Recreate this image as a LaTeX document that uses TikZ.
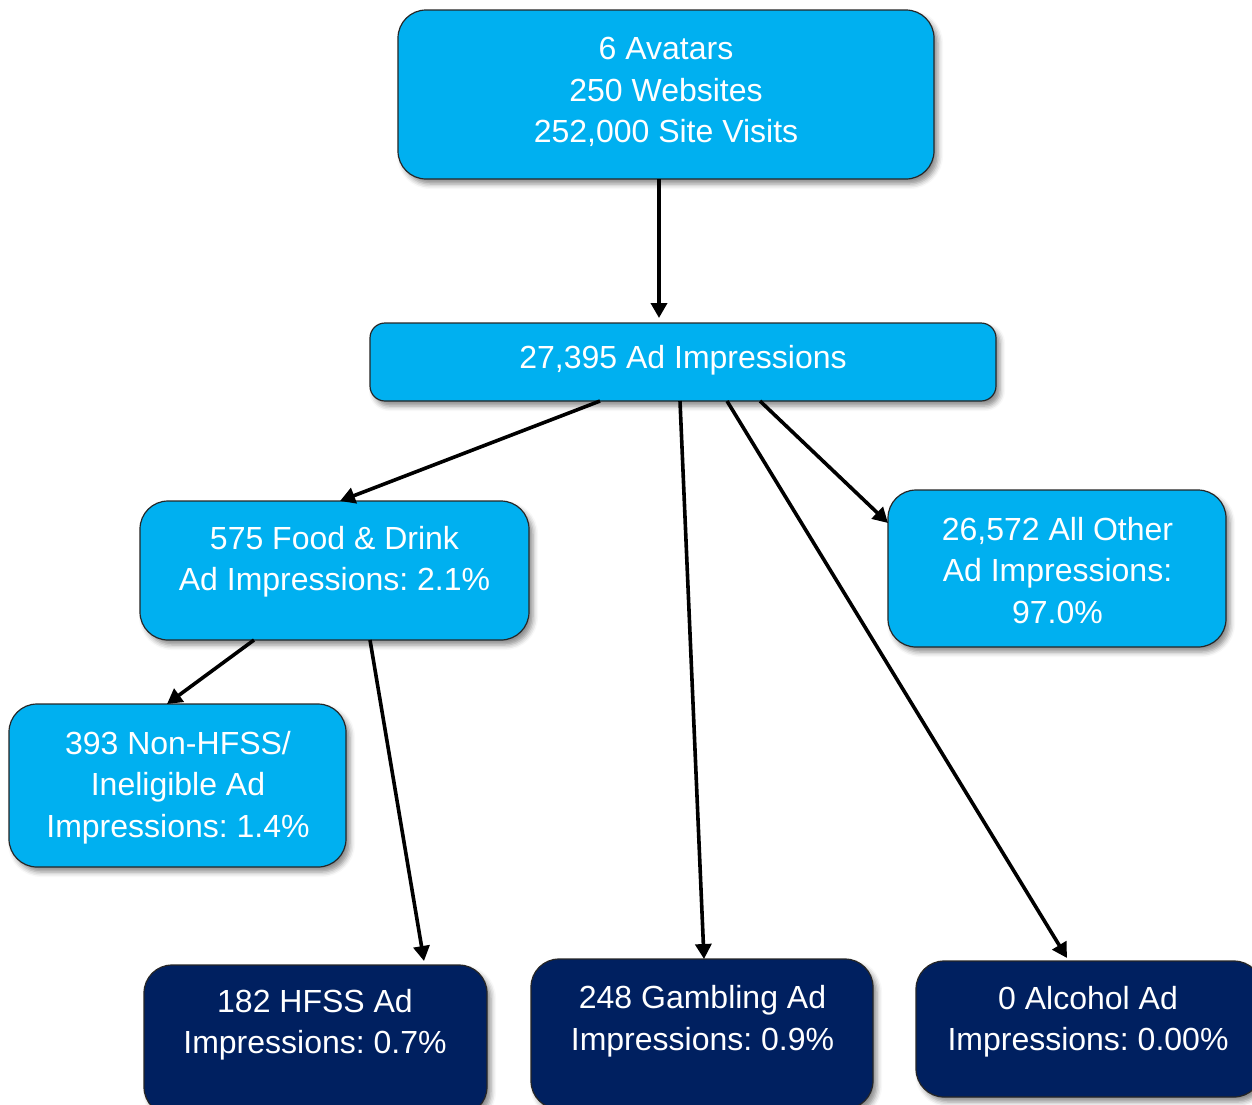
\documentclass[tikz,border=0pt]{standalone}
\usepackage{fontspec}
\setmainfont{Liberation Sans}
\usetikzlibrary{arrows.meta,calc,shadows.blur}
\definecolor{lblue}{HTML}{00B0F0}
\definecolor{navy}{HTML}{002060}
\frenchspacing
\begin{document}
\begin{tikzpicture}[x=1pt,y=-1pt,
  nbox/.style={draw=black!85, line width=1.2pt, rounded corners=28pt, anchor=north west,
    inner sep=0pt, outer sep=0pt,
    blur shadow={shadow xshift=4pt, shadow yshift=-5pt, shadow blur radius=5pt, shadow opacity=45}},
  lbox/.style={nbox, fill=lblue},
  dbox/.style={nbox, fill=navy},
  txt/.style={text=white, align=center, font=\fontsize{32}{41.5}\selectfont, inner sep=0pt},
  arr/.style={line width=3.6pt, -{Triangle[length=15pt,width=16pt]}}]
\useasboundingbox (0,0) rectangle (1252,1104);
\clip (0,0) rectangle (1252,1104);
% boxes
\node[lbox, minimum width=536, minimum height=169] (top) at (398,10) {};
\node[lbox, rounded corners=15pt, minimum width=626, minimum height=78] (mid) at (370,323) {};
\node[lbox, minimum width=389, minimum height=139] (food) at (140,501) {};
\node[lbox, minimum width=338, minimum height=157] (other) at (888,490) {};
\node[lbox, minimum width=337, minimum height=163] (nh) at (9,704) {};
\node[dbox, minimum width=343, minimum height=150] (hfss) at (144,965) {};
\node[dbox, minimum width=342, minimum height=150] (gamb) at (531,959) {};
\node[dbox, minimum width=346, minimum height=136] (alc) at (916,961) {};
% texts
\node[txt] (toptxt) at (666,92) {6 Avatars\\250 Websites\\252,000 Site Visits};
\node[txt] (midtxt) at (683,360) {27,395 Ad Impressions};
\node[txt] (foodtxt) at (334.5,561.8) {575 Food \& Drink\\Ad Impressions: 2.1\%};
\node[txt] (othertxt) at (1057.5,570.5) {26,572 All Other\\Ad Impressions:\\97.0\%};
\node[txt] (nhtxt) at (178,787.3) {393 Non-HFSS/\\Ineligible Ad\\Impressions: 1.4\%};
\node[txt] (hfsstxt) at (315,1024.8) {182 HFSS Ad\\Impressions: 0.7\%};
\node[txt] (gambtxt) at (702.5,1021.3) {248 Gambling Ad\\Impressions: 0.9\%};
\node[txt] (alctxt) at (1088,1021.8) {0 Alcohol Ad\\Impressions: 0.00\%};
% arrows
\draw[arr] ($(top.south west)+(261,0)$) -- ($(mid.north west)+(289,-5)$);
\draw[arr] ($(mid.south west)+(230,0)$) -- ($(food.north west)+(200,0)$);
\draw[arr] ($(mid.south west)+(310,0)$) -- ($(gamb.north west)+(173,0)$);
\draw[arr] ($(mid.south west)+(357,0)$) -- ($(alc.north west)+(151,-3)$);
\draw[arr] ($(mid.south west)+(390,0)$) -- ($(other.north west)+(0,33)$);
\draw[arr] ($(food.south west)+(114,0)$) -- ($(nh.north west)+(158,0)$);
\draw[arr] ($(food.south west)+(230,0)$) -- ($(hfss.north west)+(280,-4)$);
\end{tikzpicture}
\end{document}
